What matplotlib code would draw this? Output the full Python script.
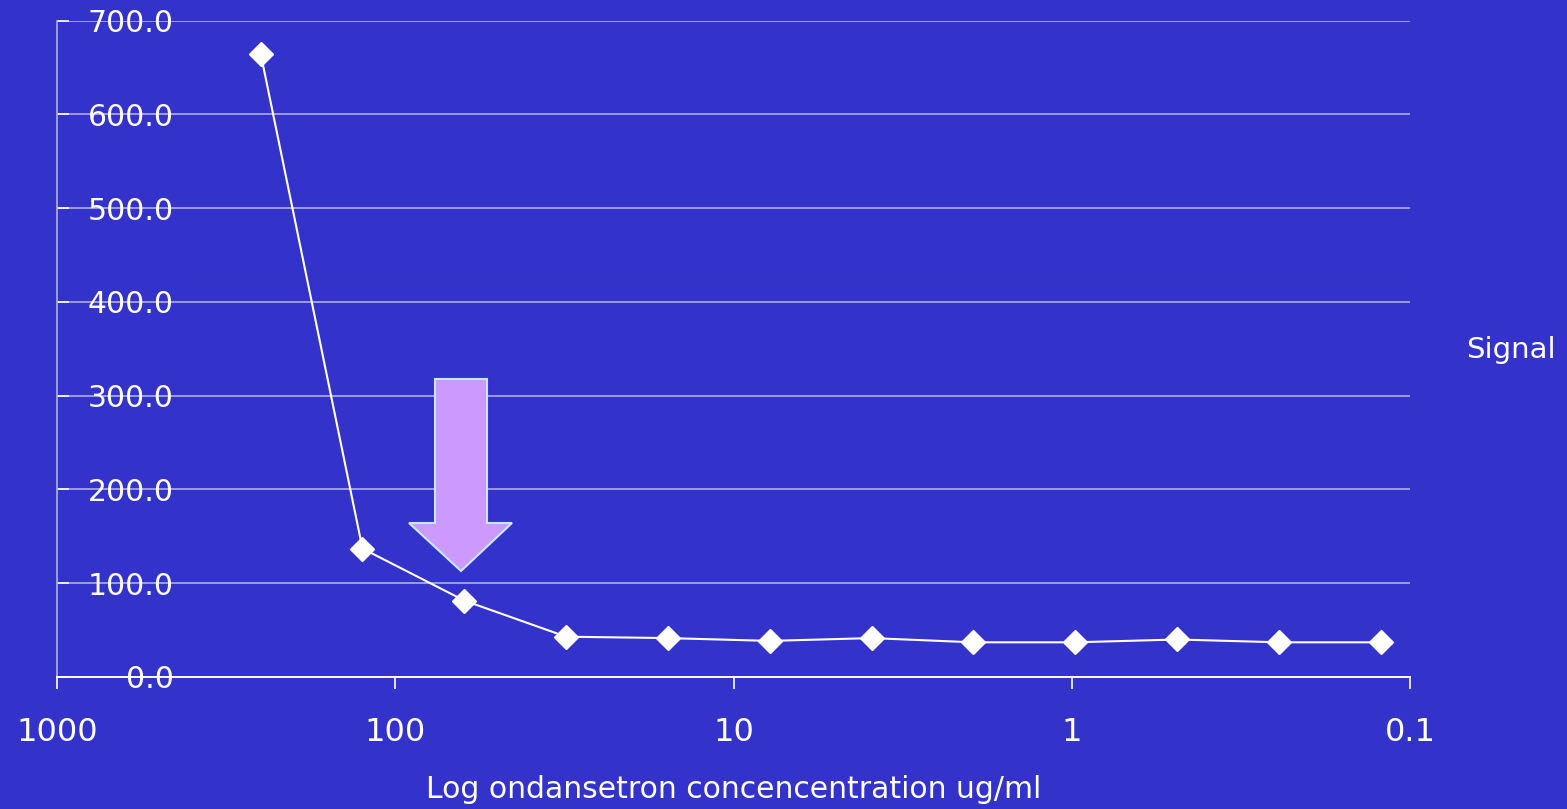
import matplotlib
matplotlib.use("Agg")
import matplotlib.pyplot as plt
from matplotlib.patches import Polygon
from matplotlib.ticker import FixedLocator, NullLocator

# two-fold dilution series (ug/ml) and measured signal
conc = [250, 125, 62.5, 31.25, 15.625, 7.8125, 3.90625, 1.953125,
        0.9765625, 0.48828125, 0.244140625, 0.1220703125]
signal = [665.0, 137.0, 81.5, 43.0, 41.5, 38.5, 41.5, 37.0, 37.0, 40.0, 37.0, 37.0]

x_ticks = [1000, 100, 10, 1, 0.1]
x_ticklabels = ["1000", "100", "10", "1", "0.1"]
y_ticks = [0, 100, 200, 300, 400, 500, 600, 700]

BG = "#3333CC"
GRID = "#AEAEE6"
W, H = 1567, 809

plt.rcParams["font.family"] = ["DejaVu Sans"]

fig = plt.figure(figsize=(W / 100, H / 100), dpi=100, facecolor=BG)
ax = fig.add_axes([57 / W, 1 - 677 / H, (1410 - 57) / W, (677 - 20.7) / H])
ax.set_facecolor(BG)

ax.plot(conc, signal, color="white", lw=1.5, marker="D", ms=12.5,
        mfc="white", mec="white", zorder=3, label="Signal")

ax.set_xscale("log")
ax.set_xlim(1000, 0.1)
ax.set_ylim(0, 700)
ax.xaxis.set_major_locator(FixedLocator(x_ticks))
ax.xaxis.set_minor_locator(NullLocator())
ax.set_xticklabels(x_ticklabels)
ax.set_yticks(y_ticks)
ax.set_yticklabels([f"{v:.1f}" for v in y_ticks])

ax.yaxis.grid(True, color=GRID, lw=1.2)
ax.set_axisbelow(True)

for s in ["top", "right"]:
    ax.spines[s].set_visible(False)
ax.spines["left"].set_color(GRID)
ax.spines["left"].set_linewidth(1.2)
ax.spines["bottom"].set_color("white")
ax.spines["bottom"].set_linewidth(1.4)

ax.tick_params(axis="x", colors="white", labelsize=23, length=8.6,
               width=1.2, direction="out", pad=20)
ax.tick_params(axis="y", colors="white", labelsize=21.5, length=8.6,
               width=1.2, direction="in", pad=-84)

ax.set_xlabel("Log ondansetron concencentration ug/ml", color="white",
              fontsize=21.5, labelpad=20)

# legend entry on the right
fig.text(1466 / W, 1 - 350 / H, "Signal", color="white", fontsize=21,
         ha="left", va="center")

# highlight arrow (drawn in pixel space)
arrow_px = [(435, 379), (487, 379), (487, 523), (512, 523), (461, 571),
            (409, 523), (435, 523)]
arrow = Polygon([(x / W, 1 - y / H) for x, y in arrow_px], closed=True,
                transform=fig.transFigure, facecolor="#CC99FF",
                edgecolor="#C8E8FF", lw=1.5, zorder=5)
fig.patches.append(arrow)

fig.savefig("out.png", dpi=100, facecolor=BG)
